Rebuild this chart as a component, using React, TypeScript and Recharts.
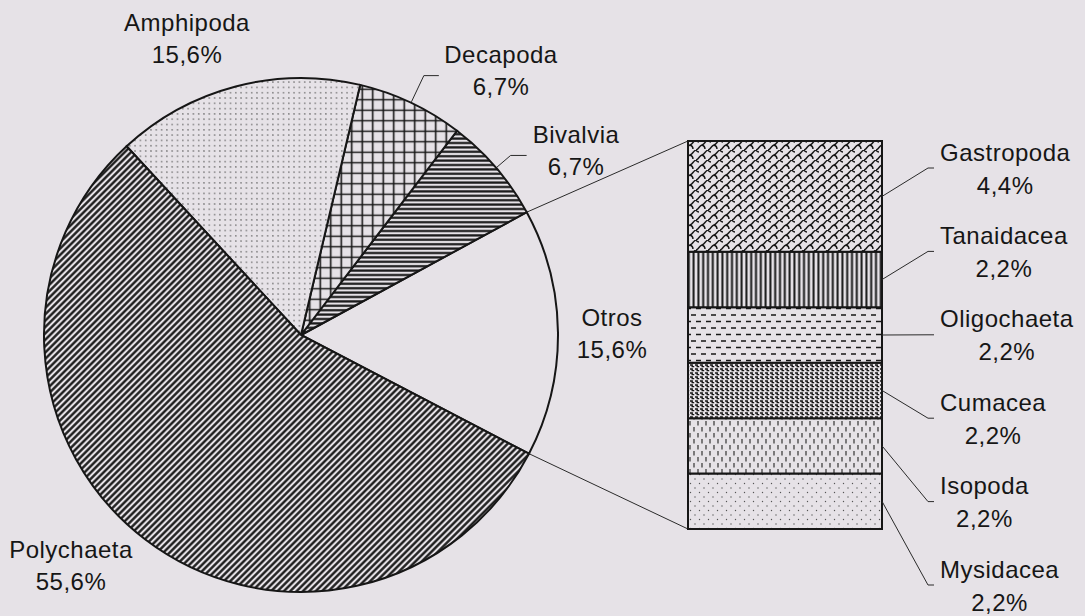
import { PieChart, Pie, Cell, BarChart, Bar, XAxis, YAxis } from 'recharts';

const W = 1085;
const H = 616;
const BG = '#e6e2e7';
const INK = '#161616';
const THIN = '#2a2a2a';
const FONT = '"Liberation Sans", Arial, sans-serif';
const FS = 24;
const LS = 0.5;

// main groups (% of total)
const pieNames = ['Otros', 'Bivalvia', 'Decapoda', 'Amphipoda', 'Polychaeta'];
const pieValues = [15.6, 6.7, 6.7, 15.6, 55.6];
const pieFills = [BG, 'url(#p-biv)', 'url(#p-dec)', 'url(#p-amp)', 'url(#p-pol)'];

// breakdown of "Otros" (%), bottom to top
const barNames = ['Mysidacea', 'Isopoda', 'Cumacea', 'Oligochaeta', 'Tanaidacea', 'Gastropoda'];
const barValues = [2.2, 2.2, 2.2, 2.2, 2.2, 4.4];
const barFills = ['url(#p-mys)', 'url(#p-iso)', 'url(#p-cum)', 'url(#p-oli)', 'url(#p-tan)', 'url(#p-gas)'];

const pieData = pieNames.map((name, i) => ({ name, value: pieValues[i] }));
const barRow: Record<string, string | number> = { name: 'Otros' };
barNames.forEach((n, i) => { barRow[n] = barValues[i]; });
const barTotal = barValues.reduce((a, b) => a + b, 0);

// layout
const PIE_CX = 301;
const PIE_CY = 335;
const PIE_R = 257;
const START = -27.5;
const BAR_LEFT = 688;
const BAR_RIGHT = 882;
const BAR_TOP = 141;
const BAR_BOTTOM = 529;
const LABEL_TOP = 168;
const LABEL_STEP = 83.4;

// label block centre relative to pie centre; elbow/tail for leader lines
const PIE_LABEL_LAYOUT: Record<string, { dx: number; dy: number; elbow?: number; tail?: number }> = {
  Otros: { dx: 311, dy: -2 },
  Bivalvia: { dx: 275, dy: -185, elbow: 19, tail: 16 },
  Decapoda: { dx: 200, dy: -265, elbow: 30, tail: 15 },
  Amphipoda: { dx: -114, dy: -297 },
  Polychaeta: { dx: -230, dy: 230 },
};

const RAD = Math.PI / 180;
const polar = (cx: number, cy: number, r: number, deg: number) => ({
  x: cx + r * Math.cos(-deg * RAD),
  y: cy + r * Math.sin(-deg * RAD),
});
const fmt = (v: number) => `${v.toFixed(1).replace('.', ',')}%`;

let ctx: CanvasRenderingContext2D | null = null;
const textWidth = (s: string) => {
  if (!ctx) ctx = document.createElement('canvas').getContext('2d');
  if (!ctx) return s.length * 12;
  ctx.font = `${FS}px ${FONT}`;
  return ctx.measureText(s).width + s.length * LS;
};

const textStyle = { fontFamily: FONT, fontSize: FS, letterSpacing: LS, fill: INK };

const renderPieLabel = (props: any) => {
  const { cx, cy, outerRadius, midAngle, startAngle, endAngle, index } = props;
  const name = pieNames[index];
  const lay = PIE_LABEL_LAYOUT[name];
  const bx = cx + lay.dx;
  const by = cy + lay.dy;
  let leader = null;
  if (lay.elbow) {
    const p0 = polar(cx, cy, outerRadius + 1, midAngle);
    const p1 = polar(cx, cy, outerRadius + lay.elbow, midAngle);
    leader = (
      <polyline
        points={`${p0.x},${p0.y} ${p1.x},${p1.y} ${p1.x + (lay.tail ?? 0)},${p1.y}`}
        fill="none" stroke={THIN} strokeWidth={1}
      />
    );
  }
  let connectors = null;
  if (name === 'Otros') {
    // lines from the "Otros" slice edges to the breakdown bar
    const a = polar(cx, cy, outerRadius, endAngle);
    const b = polar(cx, cy, outerRadius, startAngle);
    connectors = (
      <g stroke={THIN} strokeWidth={1}>
        <line x1={a.x} y1={a.y} x2={BAR_LEFT} y2={BAR_TOP} />
        <line x1={b.x} y1={b.y} x2={BAR_LEFT} y2={BAR_BOTTOM} />
      </g>
    );
  }
  return (
    <g>
      {connectors}
      {leader}
      <text x={bx} y={by - 16} textAnchor="middle" dominantBaseline="central" style={textStyle}>{name}</text>
      <text x={bx} y={by + 16} textAnchor="middle" dominantBaseline="central" style={textStyle}>{fmt(pieValues[index])}</text>
    </g>
  );
};

const renderBarLabel = (p: any, i: number) => {
  const box = p.viewBox ?? p;
  const { x, y, width, height } = box;
  const topIdx = barNames.length - 1 - i;
  const ly = LABEL_TOP + topIdx * LABEL_STEP;
  const x0 = x + width;
  const y0 = y + height / 2;
  const nx = x0 + 58;
  const w = textWidth(barNames[i]);
  return (
    <g key={barNames[i]}>
      <polyline points={`${x0},${y0} ${nx - 12},${ly} ${nx - 6},${ly}`} fill="none" stroke={THIN} strokeWidth={1} />
      <text x={nx} y={ly - 16} textAnchor="start" dominantBaseline="central" style={textStyle}>{barNames[i]}</text>
      <text x={nx + w / 2} y={ly + 17} textAnchor="middle" dominantBaseline="central" style={textStyle}>{fmt(barValues[i])}</text>
    </g>
  );
};

const PiePatterns = () => (
  <defs>
    <pattern id="p-pol" width="4.5" height="4.5" patternUnits="userSpaceOnUse" patternTransform="rotate(45)">
      <rect width="4.5" height="4.5" fill={BG} />
      <line x1="2.25" y1="0" x2="2.25" y2="4.5" stroke={INK} strokeWidth="2.3" />
    </pattern>
    <pattern id="p-amp" width="5.3" height="5.3" patternUnits="userSpaceOnUse">
      <rect width="5.3" height="5.3" fill={BG} />
      <circle cx="2.6" cy="2.6" r="0.75" fill="#666" />
    </pattern>
    <pattern id="p-dec" width="10.5" height="10.5" patternUnits="userSpaceOnUse">
      <rect width="10.5" height="10.5" fill={BG} />
      <path d="M5.25 0 V10.5 M0 5.25 H10.5" stroke={INK} strokeWidth="1.6" />
    </pattern>
    <pattern id="p-biv" width="4.4" height="4.4" patternUnits="userSpaceOnUse">
      <rect width="4.4" height="4.4" fill={BG} />
      <line x1="0" y1="2.2" x2="4.4" y2="2.2" stroke={INK} strokeWidth="2.2" />
    </pattern>
  </defs>
);

const BarPatterns = () => (
  <defs>
    <pattern id="p-gas" width="12" height="10" patternUnits="userSpaceOnUse">
      <rect width="12" height="10" fill={BG} />
      <path d="M0 10 C3 9 3 6 6 5 S9 1 12 0" fill="none" stroke={INK} strokeWidth="1.4" />
      <path d="M6 5 Q9 6 9 9 M0 0 Q1 2 3 2" fill="none" stroke={INK} strokeWidth="1.4" />
    </pattern>
    <pattern id="p-tan" width="4.8" height="4.8" patternUnits="userSpaceOnUse">
      <rect width="4.8" height="4.8" fill={BG} />
      <line x1="2.4" y1="0" x2="2.4" y2="4.8" stroke={INK} strokeWidth="2" />
    </pattern>
    <pattern id="p-oli" width="10" height="13" patternUnits="userSpaceOnUse">
      <rect width="10" height="13" fill={BG} />
      <path d="M1 3 H6 M6 9.5 H10 M0 9.5 H1" stroke={INK} strokeWidth="1.3" />
    </pattern>
    <pattern id="p-cum" width="5" height="4" patternUnits="userSpaceOnUse">
      <rect width="5" height="4" fill={BG} />
      <path d="M0 1 H2.2 V2.6 H4.2" fill="none" stroke={INK} strokeWidth="1.4" />
    </pattern>
    <pattern id="p-iso" width="8" height="12" patternUnits="userSpaceOnUse">
      <rect width="8" height="12" fill={BG} />
      <path d="M2 1 V5.5 M6 7 V11.5" stroke="#333" strokeWidth="1.2" />
    </pattern>
    <pattern id="p-mys" width="9" height="9" patternUnits="userSpaceOnUse">
      <rect width="9" height="9" fill={BG} />
      <circle cx="2" cy="2" r="0.7" fill="#555" />
      <circle cx="6.5" cy="6.5" r="0.7" fill="#555" />
    </pattern>
  </defs>
);

export default function App() {
  return (
    <div style={{ position: 'absolute', left: 0, top: 0, width: W, height: H, background: BG, overflow: 'hidden' }}>
      <div style={{ position: 'absolute', left: 0, top: 0 }}>
        <PieChart width={W} height={H} margin={{ top: 0, right: 0, bottom: 0, left: 0 }}>
          <PiePatterns />
          <Pie
            data={pieData}
            dataKey="value"
            nameKey="name"
            cx={PIE_CX}
            cy={PIE_CY}
            outerRadius={PIE_R}
            startAngle={START}
            endAngle={START + 360}
            label={renderPieLabel}
            labelLine={false}
            isAnimationActive={false}
            stroke={INK}
            strokeWidth={2}
          >
            {pieData.map((d, i) => (
              <Cell key={d.name} fill={pieFills[i]} stroke={INK} strokeWidth={2} />
            ))}
          </Pie>
        </PieChart>
      </div>
      <div style={{ position: 'absolute', left: 0, top: 0 }}>
        <BarChart
          width={W}
          height={H}
          data={[barRow]}
          margin={{ top: BAR_TOP, right: W - BAR_RIGHT, bottom: H - BAR_BOTTOM, left: BAR_LEFT }}
          barCategoryGap={0}
          barGap={0}
        >
          <BarPatterns />
          <XAxis dataKey="name" type="category" hide />
          <YAxis type="number" domain={[0, barTotal]} hide />
          {barNames.map((n, i) => (
            <Bar
              key={n}
              dataKey={n}
              stackId="otros"
              fill={barFills[i]}
              stroke={INK}
              strokeWidth={2}
              isAnimationActive={false}
              label={(p: any) => renderBarLabel(p, i)}
            />
          ))}
        </BarChart>
      </div>
    </div>
  );
}
